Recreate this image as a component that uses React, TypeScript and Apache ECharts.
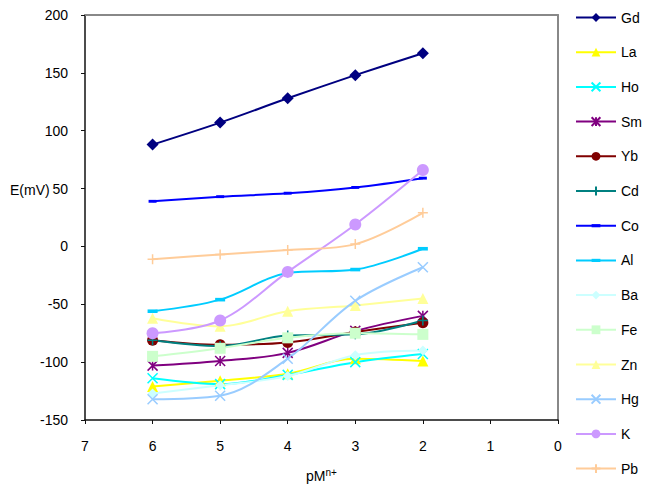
import React, { useEffect, useRef } from "react";
import * as echarts from "echarts";

// pM^n+ values at which each electrode potential was measured
const pM = [6, 5, 4, 3, 2];

// Electrode potential E (mV) for each metal ion
const Gd = [88, 107, 128, 148, 167];
const La = [-121, -116, -110, -97, -99];
const Ho = [-114, -119, -111, -100, -93];
const Sm = [-103, -99, -92, -73, -60];
const Yb = [-81, -85, -83, -74, -66];
const Cd = [-81, -86, -77, -76, -64];
const Co = [39, 43, 46, 51, 59];
const Al = [-56, -46, -23, -20, -2];
const Ba = [-127, -120, -112, -94, -90];
const Fe = [-95, -88, -79, -75, -76];
const Zn = [-62, -69, -56, -51, -45];
const Hg = [-132, -129, -97, -47, -18];
const K = [-75, -64, -22, 19, 66];
const Pb = [-11, -7, -3, 2, 29];

const yTicks = { min: -150, max: 200, interval: 50 };
const xTicks = { min: 0, max: 7, interval: 1 };

const CROSS = "path://M0,0L10,10M10,0L0,10";
const STAR = "path://M0,0L10,10M10,0L0,10M5,0L5,10";
const PLUS = "path://M5,0L5,10M0,5L10,5";
// flat dash centred in a square box so it keeps its shape at any symbol size
const DASH = "path://M0,0M10,10M0,3.2L10,3.2L10,6.8L0,6.8Z";

type Spec = {
  name: string;
  values: number[];
  color: string;
  symbol: string;
  size: number;
  stroke?: boolean;
};

const specs: Spec[] = [
  { name: "Gd", values: Gd, color: "#000080", symbol: "diamond", size: 12 },
  { name: "La", values: La, color: "#FFFF00", symbol: "triangle", size: 11 },
  { name: "Ho", values: Ho, color: "#00FFFF", symbol: CROSS, size: 10, stroke: true },
  { name: "Sm", values: Sm, color: "#800080", symbol: STAR, size: 10, stroke: true },
  { name: "Yb", values: Yb, color: "#800000", symbol: "circle", size: 11 },
  { name: "Cd", values: Cd, color: "#008080", symbol: PLUS, size: 10, stroke: true },
  { name: "Co", values: Co, color: "#0000FF", symbol: DASH, size: 8 },
  { name: "Al", values: Al, color: "#00CCFF", symbol: DASH, size: 10 },
  { name: "Ba", values: Ba, color: "#CCFFFF", symbol: "diamond", size: 10 },
  { name: "Fe", values: Fe, color: "#CCFFCC", symbol: "rect", size: 11 },
  { name: "Zn", values: Zn, color: "#FFFF99", symbol: "triangle", size: 11 },
  { name: "Hg", values: Hg, color: "#99CCFF", symbol: CROSS, size: 10, stroke: true },
  { name: "K", values: K, color: "#CC99FF", symbol: "circle", size: 12 },
  { name: "Pb", values: Pb, color: "#FFCC99", symbol: PLUS, size: 10, stroke: true },
];

const FONT = "'Liberation Sans', Arial, sans-serif";

export default function App() {
  const ref = useRef<HTMLDivElement>(null);

  useEffect(() => {
    if (!ref.current) return;
    const chart = echarts.init(ref.current, undefined, { renderer: "svg" });

    const series = specs.map((s) => ({
      name: s.name,
      type: "line",
      xAxisIndex: 0,
      yAxisIndex: 0,
      data: pM.map((x, i) => [x, s.values[i]]),
      smooth: 0.35,
      symbol: s.symbol,
      symbolSize: s.size,
      showAllSymbol: true,
      lineStyle: { color: s.color, width: 2 },
      itemStyle: s.stroke
        ? { color: s.color, borderColor: s.color, borderWidth: 1.5 }
        : { color: s.color, borderWidth: 0 },
      emphasis: { disabled: true },
    }));

    chart.setOption({
      animation: false,
      textStyle: { fontFamily: FONT },
      grid: { left: 85, right: 96, top: 15, bottom: 66, outerBoundsMode: "none", containLabel: false },
      legend: {
        orient: "vertical",
        left: 570,
        top: 5.5,
        itemWidth: 40,
        itemHeight: 11,
        itemGap: 20.7,
        textStyle: { fontSize: 14, color: "#000", fontFamily: FONT },
        data: specs.map((s) => s.name),
      },
      xAxis: [
        {
          type: "value",
          inverse: true,
          ...xTicks,
          position: "bottom",
          name: "{a|pM}{b|n+}",
          nameLocation: "middle",
          nameGap: 47,
          nameTextStyle: {
            rich: {
              a: { fontSize: 14, color: "#000", fontFamily: FONT },
              b: { fontSize: 10, color: "#000", fontFamily: FONT, padding: [0, 0, 7, 0] },
            },
          },
          axisLine: { onZero: false, lineStyle: { color: "#111", width: 1.5 } },
          axisTick: { inside: false, length: 4, lineStyle: { color: "#111" } },
          axisLabel: { fontSize: 14, color: "#000", margin: 19, fontFamily: FONT },
          splitLine: { show: false },
        },
        {
          type: "value",
          inverse: true,
          ...xTicks,
          position: "top",
          axisLine: { onZero: false, lineStyle: { color: "#888", width: 2 } },
          axisTick: { show: false },
          axisLabel: { show: false },
          splitLine: { show: false },
        },
      ],
      yAxis: [
        {
          type: "value",
          ...yTicks,
          position: "left",
          axisLine: { show: true, onZero: false, lineStyle: { color: "#111", width: 1.5 } },
          axisTick: { show: true, inside: false, length: 4, lineStyle: { color: "#111" } },
          axisLabel: { fontSize: 14, color: "#000", margin: 17, fontFamily: FONT },
          splitLine: { show: false },
        },
        {
          type: "value",
          ...yTicks,
          position: "right",
          axisLine: { show: true, onZero: false, lineStyle: { color: "#888", width: 2 } },
          axisTick: { show: false },
          axisLabel: { show: false },
          splitLine: { show: false },
        },
      ],
      graphic: [
        {
          type: "text",
          left: 10,
          top: 183,
          style: { text: "E(mV)", fontSize: 14, fill: "#000", fontFamily: FONT },
        },
      ],
      series,
    });

    return () => chart.dispose();
  }, []);

  return (
    <div
      ref={ref}
      style={{ position: "absolute", left: 0, top: 0, width: 654, height: 486, background: "#fff" }}
    />
  );
}
